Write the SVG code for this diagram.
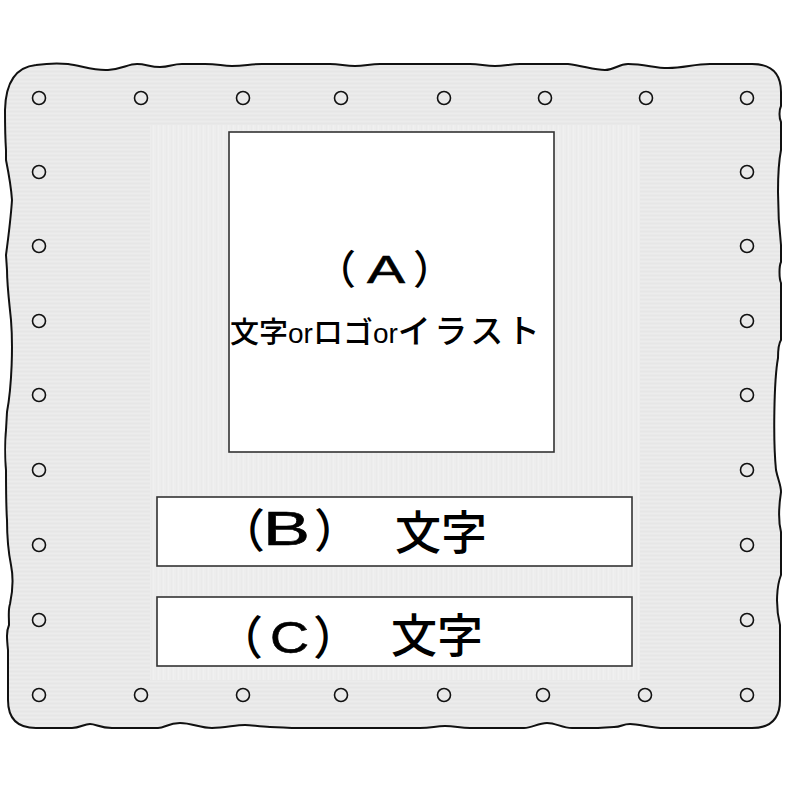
<svg xmlns="http://www.w3.org/2000/svg" width="795" height="795" viewBox="0 0 795 795">
<defs>
<pattern id="hstripe" width="8" height="4" patternUnits="userSpaceOnUse">
<rect width="8" height="4" fill="#e9e9e9"/>
<rect y="1" width="8" height="1" fill="#ececec"/>
<rect y="3" width="8" height="1" fill="#e6e6e6"/>
</pattern>
<pattern id="vstripe" width="5" height="8" patternUnits="userSpaceOnUse">
<rect width="5" height="8" fill="#ededed"/>
<rect x="1" width="1" height="8" fill="#eaeaea"/>
<rect x="3" width="1" height="8" fill="#f0f0f0"/>
</pattern>
<clipPath id="plateClip"><use href="#plateShape"/></clipPath>
<path id="plateShape" d="M 36,65 C 50,63 58,63 68,64 C 82,66 95,71 108,70 C 122,69 128,64 137,64 C 146,64 150,67 160,67 C 170,67 172,64 182,64 L 205,64 C 218,64 222,66 232,66 C 245,66 250,64 262,64 L 330,64 C 340,64 345,66 355,66 C 365,66 370,64 380,64 L 470,64 C 480,64 485,66 495,66 C 505,66 510,64 520,64 L 568,64 C 584,66 594,70 605,70 C 615,70 618,64 628,64 C 645,64 654,68 668,68 C 684,68 694,64 710,64 L 752,64 Q 781,64 781,92 L 781,106 C 779,110 779,118 781,122 L 781,150 C 777,170 777,210 781,245 L 781,262 C 779,266 779,278 781,283 L 781,340 C 779,343 778,352 778,358 C 774,380 773,440 776,470 C 778,480 781,485 781,492 C 779,505 778,520 781,532 L 781,575 C 777,585 775,605 780,625 L 780,700 Q 780,728 752,728 L 665,728 C 650,728 640,724 630,724 C 622,724 622,727 614,727 C 606,727 605,728 598,728 L 572,728 C 562,728 556,723 547,723 C 538,723 532,728 524,728 L 470,728 C 460,728 455,726 445,726 C 435,726 432,728 420,728 L 300,728 C 285,728 282,727 270,727 C 260,727 252,725 245,725 C 235,725 225,728 212,728 C 200,728 192,723 180,723 C 168,723 165,728 158,728 L 112,728 C 100,728 96,724 90,724 C 84,724 80,728 72,728 L 36,728 Q 8,728 8,700 L 8,650 C 7,640 6,632 9,625 C 9,615 8,610 10,604 C 13,590 13,575 11,565 C 9,555 7,540 7,520 C 6,505 6,480 6,470 C 5,460 5,440 6,430 L 7,412 C 12,385 13,345 11,320 C 9,300 7,285 7,270 L 6,255 C 8,240 11,215 12,200 C 11,185 8,170 6,160 L 6,150 C 5,135 5,120 5,110 Q 6,68 36,65 Z"/>
</defs>
<style>
.plate{fill:url(#hstripe);stroke:#111;stroke-width:2}
.hole{fill:none;stroke:#111;stroke-width:1.6}
.box{fill:#fff;stroke:#333;stroke-width:1.6}
.jp{font-family:"Noto Sans CJK JP","Liberation Sans",sans-serif;fill:#000;font-weight:500}
.lat{font-family:"Liberation Sans","Noto Sans CJK JP",sans-serif;fill:#000}
</style>
<rect width="795" height="795" fill="#fff"/>
<g id="plate">
<use href="#plateShape" class="plate"/>
<rect x="150" y="125" width="490" height="555" fill="url(#vstripe)" clip-path="url(#plateClip)"/>
</g>
<g id="holes">
<circle class="hole" cx="39" cy="98" r="6.5"/>
<circle class="hole" cx="141" cy="98" r="6.5"/>
<circle class="hole" cx="243" cy="98" r="6.5"/>
<circle class="hole" cx="341" cy="98" r="6.5"/>
<circle class="hole" cx="444" cy="98" r="6.5"/>
<circle class="hole" cx="545" cy="98" r="6.5"/>
<circle class="hole" cx="646" cy="98" r="6.5"/>
<circle class="hole" cx="747" cy="98" r="6.5"/>
<circle class="hole" cx="39" cy="172" r="6.5"/>
<circle class="hole" cx="39" cy="246" r="6.5"/>
<circle class="hole" cx="39" cy="321" r="6.5"/>
<circle class="hole" cx="39" cy="395" r="6.5"/>
<circle class="hole" cx="39" cy="470" r="6.5"/>
<circle class="hole" cx="39" cy="545" r="6.5"/>
<circle class="hole" cx="39" cy="620" r="6.5"/>
<circle class="hole" cx="747" cy="172" r="6.5"/>
<circle class="hole" cx="747" cy="246" r="6.5"/>
<circle class="hole" cx="747" cy="321" r="6.5"/>
<circle class="hole" cx="747" cy="395" r="6.5"/>
<circle class="hole" cx="747" cy="470" r="6.5"/>
<circle class="hole" cx="747" cy="545" r="6.5"/>
<circle class="hole" cx="747" cy="620" r="6.5"/>
<circle class="hole" cx="39" cy="695" r="6.5"/>
<circle class="hole" cx="141" cy="695" r="6.5"/>
<circle class="hole" cx="243" cy="695" r="6.5"/>
<circle class="hole" cx="341" cy="695" r="6.5"/>
<circle class="hole" cx="444" cy="695" r="6.5"/>
<circle class="hole" cx="543" cy="695" r="6.5"/>
<circle class="hole" cx="645" cy="695" r="6.5"/>
<circle class="hole" cx="747" cy="695" r="6.5"/>
</g>
<g id="boxA">
<rect class="box" x="229" y="132" width="325" height="320"/>
<text class="jp" x="316" y="284" font-size="40">（</text>
<text class="lat" x="367" y="283" font-size="39" textLength="38" lengthAdjust="spacingAndGlyphs" stroke="#000" stroke-width="0.6">A</text>
<text class="jp" x="413" y="284" font-size="40">）</text>
<text class="jp" x="230" y="343" font-size="29">文字<tspan class="lat" font-size="28">or</tspan><tspan font-size="30">ロゴ</tspan><tspan class="lat" font-size="28">or</tspan><tspan font-size="33" letter-spacing="3.5">イラスト</tspan></text>
</g>
<g id="boxB">
<rect class="box" x="157" y="497" width="475" height="69"/>
<text class="jp" x="219" y="547" font-size="46">（</text>
<text class="lat" x="263" y="545" font-size="48" textLength="47" lengthAdjust="spacingAndGlyphs" stroke="#000" stroke-width="0.6">B</text>
<text class="jp" x="314" y="547" font-size="46">）</text>
<text class="jp" x="395" y="549" font-size="46">文字</text>
</g>
<g id="boxC">
<rect class="box" x="157" y="597" width="475" height="69"/>
<text class="jp" x="217" y="654" font-size="46">（</text>
<text class="lat" x="270" y="653" font-size="45" textLength="39" lengthAdjust="spacingAndGlyphs" stroke="#000" stroke-width="0.6">C</text>
<text class="jp" x="313" y="654" font-size="46">）</text>
<text class="jp" x="391" y="652" font-size="46">文字</text>
</g>
</svg>
